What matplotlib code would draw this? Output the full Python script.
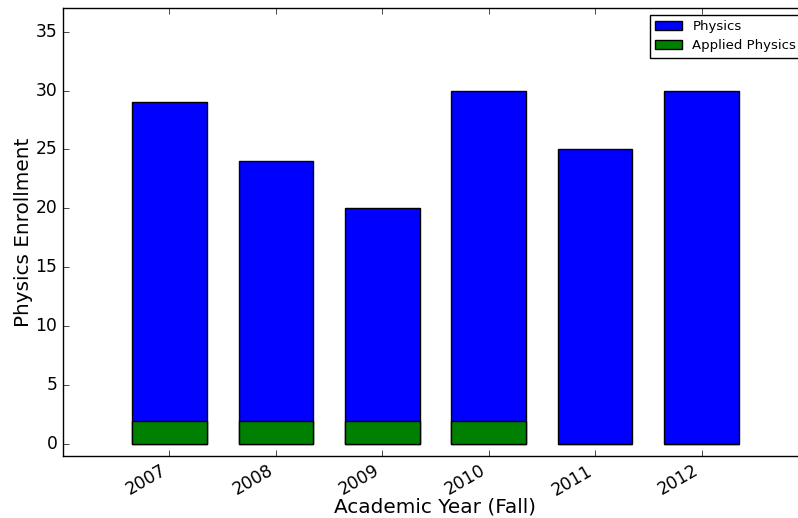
import matplotlib
matplotlib.use("Agg")
import matplotlib.pyplot as plt

years = [2007, 2008, 2009, 2010, 2011, 2012]
physics = [29, 24, 20, 30, 25, 30]
applied = [2, 2, 2, 2, 0, 0]

plt.style.use('classic')
fig = plt.figure(figsize=(7.98, 5.18), dpi=100, facecolor='white')
# axes run past the right edge of the picture, as in the reference
ax = fig.add_axes([63 / 798, 62 / 518, 745 / 798, 448 / 518])
ax.spines['right'].set_visible(False)
ax.patch.set_edgecolor('none')

ax.bar(years, physics, width=0.7, color='b', edgecolor='k', align='center', label='Physics')
ax.bar(years, applied, width=0.7, color='g', edgecolor='k', align='center', label='Applied Physics')

ax.set_xlim(2006, 2013)
ax.set_ylim(-1, 37)
ax.set_xticks(years)
ax.set_xticklabels([str(y) for y in years], rotation=30, ha='right')
ax.tick_params(labelsize=12.3)
ax.set_xlabel('Academic Year (Fall)', fontsize=14.4)
ax.xaxis.set_label_coords(0.5, -0.093)
ax.set_ylabel('Physics Enrollment', fontsize=14.4, labelpad=1.5)
ax.legend(loc='upper right', fontsize=9.5)

fig.savefig('out.png', dpi=100, facecolor='white', edgecolor='none')
